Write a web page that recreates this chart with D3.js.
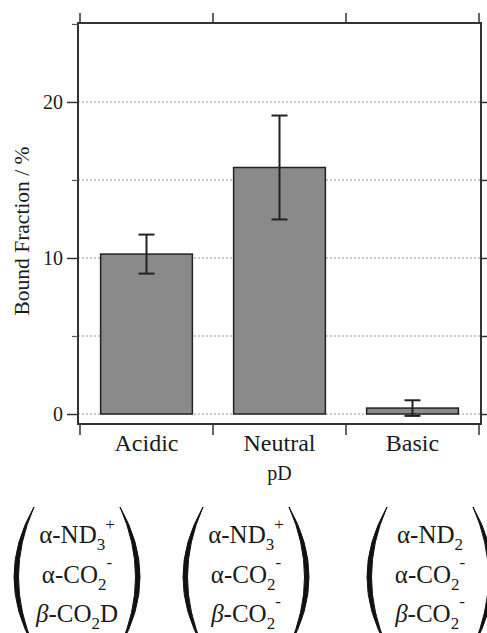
<!DOCTYPE html>
<html>
<head>
<meta charset="utf-8">
<script src="https://cdn.jsdelivr.net/npm/d3@7"></script>
<style>
  body { margin: 0; background: #fff; }
  text { font-family: "Liberation Serif", "Times New Roman", serif; fill: #1a1a1a; }
</style>
</head>
<body>
<div id="chart"></div>
<script>
// data
var categories = ["Acidic", "Neutral", "Basic"]
var values = [10.25, 15.8, 0.38]
var errors = [1.25, 3.33, 0.5]
var majorTicks = [0, 10, 20]
var minorTicks = [5, 15, 25]
var gridValues = [0, 5, 10, 15, 20]

// protonation states under each column: [text, kind]
var chemLabels = [
  [ [["α-ND",""],["3","sub"],["+","sup"]],
    [["α-CO",""],["2","sub"],["-","sup"]],
    [["β","it"],["-CO",""],["2","sub"],["D",""]] ],
  [ [["α-ND",""],["3","sub"],["+","sup"]],
    [["α-CO",""],["2","sub"],["-","sup"]],
    [["β","it"],["-CO",""],["2","sub"],["-","sup"]] ],
  [ [["α-ND",""],["2","sub"]],
    [["α-CO",""],["2","sub"],["-","sup"]],
    [["β","it"],["-CO",""],["2","sub"],["-","sup"]] ]
]
var chemCenters = [77, 246, 430]

var W = 487, H = 633
var pLeft = 78, pRight = 481, pTop = 23, pBottom = 424

var svg = d3.select("#chart").append("svg")
    .attr("width", W).attr("height", H)

var x = d3.scaleBand().domain(categories).range([80, 479])
    .paddingInner(0.31).paddingOuter(0.155)
var xb = d3.scaleBand().domain(categories).range([80, 479])
var y = d3.scaleLinear().domain([-0.64, 25.06]).range([pBottom, pTop])

// dotted grid
svg.append("g").selectAll("line").data(gridValues).enter().append("line")
  .attr("x1", pLeft).attr("x2", pRight)
  .attr("y1", d => y(d)).attr("y2", d => y(d))
  .attr("stroke", "#999").attr("stroke-width", 1)
  .attr("stroke-dasharray", "2,2")

// bars
svg.append("g").selectAll("rect").data(values).enter().append("rect")
  .attr("x", (d, i) => x(categories[i]))
  .attr("width", x.bandwidth())
  .attr("y", d => y(d))
  .attr("height", d => y(0) - y(d))
  .attr("fill", "#8a8a8a").attr("stroke", "#222").attr("stroke-width", 1.5)

// error bars
var eb = svg.append("g").attr("stroke", "#222").attr("stroke-width", 2)
values.forEach(function (v, i) {
  var cx = x(categories[i]) + x.bandwidth() / 2
  eb.append("line").attr("x1", cx).attr("x2", cx)
    .attr("y1", y(v + errors[i])).attr("y2", y(v - errors[i]))
  ;[v + errors[i], v - errors[i]].forEach(function (e) {
    eb.append("line").attr("x1", cx - 8).attr("x2", cx + 8)
      .attr("y1", y(e)).attr("y2", y(e))
  })
})

// frame
svg.append("rect").attr("x", pLeft).attr("y", pTop)
  .attr("width", pRight - pLeft).attr("height", pBottom - pTop)
  .attr("fill", "none").attr("stroke", "#333").attr("stroke-width", 2)

// left axis
var yAxis = svg.append("g").attr("transform", "translate(" + pLeft + ",0)")
  .call(d3.axisLeft(y).tickValues(majorTicks).tickSize(11).tickPadding(4))
yAxis.select(".domain").remove()
yAxis.selectAll("line").attr("stroke", "#333").attr("stroke-width", 1.5)
yAxis.selectAll("text").attr("font-size", 20)
  .style("font-family", "Liberation Serif").attr("fill", "#1a1a1a")

var yMinor = svg.append("g").attr("transform", "translate(" + pLeft + ",0)")
  .call(d3.axisLeft(y).tickValues(minorTicks).tickSize(6).tickFormat(""))
yMinor.select(".domain").remove()
yMinor.selectAll("line").attr("stroke", "#555").attr("stroke-width", 1.2)

// right axis
var yRight = svg.append("g").attr("transform", "translate(" + pRight + ",0)")
  .call(d3.axisRight(y).tickValues(gridValues).tickSize(6).tickFormat(""))
yRight.select(".domain").remove()
yRight.selectAll("line").attr("stroke", "#333").attr("stroke-width", 1.5)

// category boundary ticks (top and bottom)
var bounds = categories.map(c => xb(c)).concat([xb.range()[1]])
svg.append("g").selectAll("line").data(bounds).enter().append("line")
  .attr("x1", d => d).attr("x2", d => d)
  .attr("y1", pTop).attr("y2", pTop - 10)
  .attr("stroke", "#333").attr("stroke-width", 1.5)
svg.append("g").selectAll("line").data(bounds).enter().append("line")
  .attr("x1", d => d).attr("x2", d => d)
  .attr("y1", pBottom).attr("y2", pBottom + 11)
  .attr("stroke", "#333").attr("stroke-width", 1.5)

// category labels
svg.append("g").selectAll("text").data(categories).enter().append("text")
  .attr("x", d => x(d) + x.bandwidth() / 2)
  .attr("y", 451)
  .attr("text-anchor", "middle")
  .attr("font-size", 24)
  .text(d => d)

// axis titles
svg.append("text").attr("x", (pLeft + pRight) / 2).attr("y", 480)
  .attr("text-anchor", "middle").attr("font-size", 20).text("pD")

svg.append("text")
  .attr("transform", "translate(29,231) rotate(-90)")
  .attr("text-anchor", "middle").attr("font-size", 21.5)
  .text("Bound Fraction / %")

// chemical state labels with parentheses
var offsets = { "": 0, it: 0, sub: 7, sup: -13 }
chemLabels.forEach(function (group, gi) {
  var c = chemCenters[gi]
  var g = svg.append("g")
  group.forEach(function (line, li) {
    var t = g.append("text").attr("x", c).attr("y", 543 + li * 39.5)
      .attr("text-anchor", "middle").attr("font-size", 25)
    var prev = 0
    line.forEach(function (seg) {
      var off = offsets[seg[1]]
      if (seg[1] == "sup" && seg[0] == "-") off = -15
      var ts = t.append("tspan").attr("dy", off - prev).text(seg[0])
      if (seg[1] == "sub" || seg[1] == "sup") ts.attr("font-size", 17)
      if (seg[1] == "it") ts.style("font-style", "italic")
      prev = off
    })
  })
  // parentheses as crescents
  var y0 = 507, y1 = 647
  ;[-1, 1].forEach(function (s) {
    var tip = c + s * 43, mid = c + s * 63
    var outer = 2 * mid - tip, inner = 2 * (mid - s * 4.5) - tip
    g.append("path")
      .attr("d", "M" + tip + "," + y0 + " Q" + outer + "," + (y0 + y1) / 2 + " " + tip + "," + y1 +
                 " Q" + inner + "," + (y0 + y1) / 2 + " " + tip + "," + y0 + "Z")
      .attr("fill", "#111").attr("stroke", "#111").attr("stroke-width", 1)
  })
})
</script>
</body>
</html>
